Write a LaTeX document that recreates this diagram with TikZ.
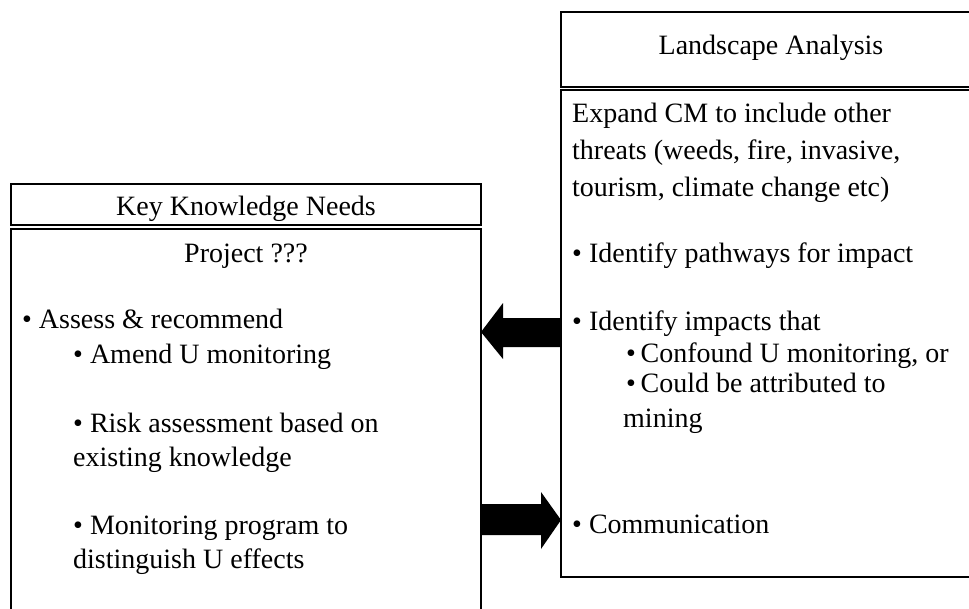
\documentclass[tikz,border=0pt]{standalone}
\usepackage{fontspec}
\setmainfont{Liberation Serif}
\usepackage{tikz}
\usetikzlibrary{positioning}
\tikzset{
  panel/.style={draw=black, line width=1.4pt, fill=white, inner sep=0pt, outer sep=0pt},
  txt/.style={font=\fontsize{28}{34}\selectfont, inner sep=0pt, anchor=base west},
  head/.style={txt, anchor=base},
  blk/.style={fill=black}
}

\begin{document}
\begin{tikzpicture}[x=1pt, y=-1pt]
\useasboundingbox (0,0) rectangle (969,608);
\clip (0,0) rectangle (969,608);

% left panel
\node[panel, anchor=north west, minimum width=470pt, minimum height=41pt] (ktitle) at (11,184) {};
\node[panel, minimum width=470pt, minimum height=411pt, below=4pt of ktitle] (kbody) {};
\node[head] (kname) at (246,215) {Key Knowledge Needs};
\node[head] (kproj) at (246,262) {Project ???};
\node[txt] (k1) at (22,328) {\textbullet\ Assess \& recommend};
\node[txt] (k2) at (73,363) {\textbullet\ Amend U monitoring};
\node[txt] (k3) at (73,432) {\textbullet\ Risk assessment based on};
\node[txt] (k4) at (73,466) {existing knowledge};
\node[txt] (k5) at (73,534) {\textbullet\ Monitoring program to};
\node[txt] (k6) at (73,568) {distinguish U effects};

% right panel
\node[panel, anchor=north west, minimum width=419pt, minimum height=75pt] (ltitle) at (561,12) {};
\node[panel, minimum width=419pt, minimum height=487pt, below=3pt of ltitle] (lbody) {};
\node[head] (lname) at (771,54) {Landscape Analysis};
\node[txt] (l1) at (572,122) {Expand CM to include other};
\node[txt] (l2) at (572,159) {threats (weeds, fire, invasive,};
\node[txt] (l3) at (572,196) {tourism, climate change etc)};
\node[txt] (l4) at (572,262) {\textbullet\ Identify pathways for impact};
\node[txt] (l5) at (572,330) {\textbullet\ Identify impacts that};
\node[txt] (l6) at (626,362) {\textbullet\,Confound U monitoring, or};
\node[txt] (l7) at (626,392) {\textbullet\,Could be attributed to};
\node[txt] (l8) at (623,427) {mining};
\node[txt] (l9) at (572,533) {\textbullet\ Communication};

% block arrows between the panels
\fill[blk] (kbody.east |- 0,332) -- (503,303) -- (503,318) -- (lbody.west |- 0,318)
  -- (lbody.west |- 0,347) -- (503,347) -- (503,359) -- cycle;
\fill[blk] (kbody.east |- 0,504) -- (541,504) -- (541,492) -- (lbody.west |- 0,520)
  -- (541,549) -- (541,535) -- (kbody.east |- 0,535) -- cycle;
\end{tikzpicture}
\end{document}
